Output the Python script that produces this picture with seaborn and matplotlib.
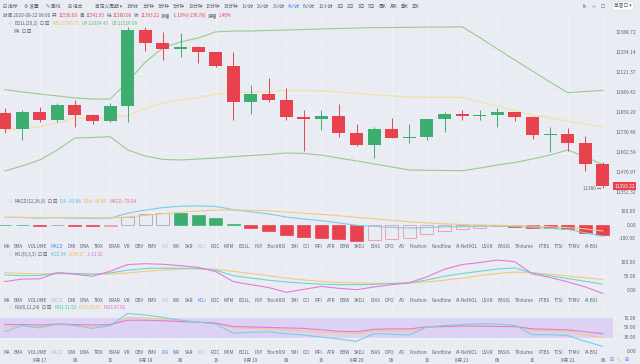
import matplotlib
matplotlib.use("Agg")
import numpy as np
import pandas as pd
import seaborn as sns
import matplotlib.pyplot as plt
from matplotlib.transforms import blended_transform_factory

# 4h candles from 2020-08-16 16:00 to 2020-08-22 08:00
times = pd.date_range("2020-08-16 16:00", periods=35, freq="4h")

opens = [11860, 11752, 11864, 11812, 11909, 11844, 11807, 11903, 12407, 12321,
         12279, 12294, 12257, 12167, 11930, 11981, 11942, 11833, 11818, 11840,
         11726, 11652, 11752, 11698, 11705, 11816, 11851, 11838, 11845, 11864,
         11833, 11716, 11722, 11666, 11530]
highs = [11890, 11877, 11896, 11922, 11942, 11853, 11920, 12427, 12427, 12395,
         12385, 12298, 12260, 12259, 12040, 12086, 12020, 11877, 11877, 11915,
         11786, 11769, 11823, 11786, 11820, 11866, 11877, 11877, 11888, 11866,
         11840, 11769, 11759, 11709, 11541.93]
lows = [11728, 11684, 11799, 11801, 11767, 11786, 11801, 11800, 12267, 12205,
        12227, 12187, 12160, 11812, 11851, 11931, 11812, 11615, 11748, 11705,
        11645, 11569, 11695, 11662, 11684, 11734, 11812, 11812, 11769, 11807,
        11688, 11609, 11615, 11489, 11380]
closes = [11752, 11864, 11812, 11909, 11844, 11807, 11903, 12407, 12321, 12279,
          12294, 12257, 12167, 11930, 11981, 11942, 11833, 11818, 11840, 11726,
          11652, 11752, 11698, 11705, 11816, 11851, 11838, 11845, 11864, 11833,
          11716, 11722, 11666, 11530, 11393.22]

boll_up = [12010, 11994, 11981, 11968, 11955, 11948, 11948, 12060, 12192, 12286,
           12326, 12353, 12394, 12400, 12400, 12404, 12407, 12410, 12414, 12417,
           12420, 12423, 12424, 12425, 12427, 12427, 12429, 12356, 12279, 12205,
           12132, 12060, 11989, 11997, 12004.43]
boll_mb = [11749, 11756, 11769, 11794, 11826, 11824, 11826, 11840, 11887, 11923,
           11941, 11958, 11981, 11989, 11993, 11998, 12004, 12004, 12001, 11993,
           11985, 11977, 11968, 11960, 11959, 11959, 11959, 11931, 11902, 11873,
           11847, 11824, 11804, 11786, 11766.71]
boll_lb = [11487, 11519, 11557, 11620, 11696, 11700, 11705, 11620, 11582, 11560,
           11557, 11563, 11569, 11578, 11585, 11592, 11601, 11598, 11588, 11569,
           11551, 11532, 11513, 11494, 11492, 11491, 11489, 11506, 11525, 11541,
           11563, 11588, 11620, 11576, 11528.99]

dif = [58.5, 57.5, 52, 56.5, 51.5, 50, 51, 89, 112, 131, 141, 144, 139.5, 115.5,
       98.5, 83.5, 60.5, 45, 32.5, 16, -2, -9.5, -18, -22.5, -19, -13.5, -12.5,
       -10, -7, -10, -18, -25.5, -33, -58, -83.88]
dea = [57, 56, 55, 55, 54, 54, 53, 60, 72, 85, 96, 105, 112, 113, 111, 106, 98,
       89, 80, 70, 58, 47, 36, 25, 16, 9, 4, 0, -2, -4, -8, -13, -19, -29, -44.84]
macd_hist = [3, 3, -6, 3, -5, -8, -4, 58, 80, 92, 90, 78, 55, 5, -25, -45, -75,
             -88, -95, -108, -120, -113, -108, -95, -70, -45, -33, -20, -10, -12,
             -20, -25, -28, -58, -78.04]

kdj_k = [55, 52, 53, 62, 60, 57, 62, 72, 78, 79, 79, 78, 72, 52, 44, 36, 30, 25,
         22, 20, 20, 21, 24, 26, 37, 50, 60, 68, 76, 80, 62, 52, 42, 32, 22.34]
kdj_d = [64, 60, 58, 59, 60, 58, 58, 62, 68, 72, 76, 77, 75, 68, 60, 52, 44, 37,
         32, 28, 26, 25, 25, 26, 30, 36, 44, 52, 60, 65, 63, 57, 51, 45, 38.17]
kdj_j = [31, 40, 41, 63, 57, 50, 68, 92, 95, 93, 88, 82, 67, 31, 20, 10, -7, 3,
         14, 7, 2, 12, 20, 27, 48, 75, 92, 99, 108, 102, 58, 46, 30, 12, -11.32]

rsi1 = [42, 55, 50, 59, 55, 49, 55, 80, 77, 72, 66, 62, 58, 39, 41, 42, 38, 35,
        31, 27, 22, 38, 37, 35, 52, 55, 57, 59, 58, 55, 36, 36, 34, 22, 11.53]
rsi2 = [52, 54, 53, 56, 55, 52, 55, 72, 71, 68, 65, 62, 60, 50, 49, 48, 46, 44,
        41, 40, 38, 44, 44, 43, 51, 52, 53, 53, 53, 52, 45, 44, 43, 36, 29.67]
rsi3 = [57, 57, 56, 58, 57, 56, 57, 66, 66, 65, 63, 62, 60, 53, 52, 51, 50, 49,
        46, 43, 42, 47, 48, 48, 52, 53, 54, 54, 53, 53, 48, 47, 46, 42, 37.82]

price_ticks = [12388.72, 12254.14, 12121.37, 11989.42, 11859.20, 11730.46,
               11602.59, 11476.97, 11352.32]
macd_ticks = [100, 0, -100]
kdj_ticks = [100, 50, 0]
rsi_ticks = [70, 50, 30, 0]

indicators = ["MA", "EMA", "VOLUME", "MACD", "DMI", "DMA", "TRIX", "BRAR", "VR",
              "OBV", "EMV", "RSI", "WR", "SAR", "KDJ", "ROC", "MTM", "BOLL", "PSY",
              "StochRSI", "SMI", "CCI", "MFI", "ATR", "BBW", "SKDJ", "BIAS", "DPO",
              "AO", "Position", "Fundflow", "AI-NetVOL", "LSUR", "BASIS", "TVolume",
              "FTBS", "TTSI", "TTMU", "AI-BSI"]
periods = ["1分时", "1分钟", "3分钟", "5分钟", "10分钟", "15分钟", "30分钟", "1小时",
           "2小时", "3小时", "4小时", "6小时", "12小时", "1日", "2日", "3日", "5日",
           "周K", "月K", "季K", "年K"]

# colours
BG = "#e9ecf3"
GRID = "#f2f3f8"
GREEN = "#3dae70"
RED = "#e8424f"
BAND = "#98cc90"
MID = "#f1e2a8"
TXT = "#5b606c"
MUTED = "#b9bdc7"
BLUE = "#4a86e8"
CYAN = "#78cfe3"
YEL = "#f3c97f"
PINK = "#e27cd6"

sns.set_theme(style="white")
plt.rcParams["font.family"] = ["Noto Sans CJK SC", "DejaVu Sans"]

W, H = 640, 364
fig = plt.figure(figsize=(6.4, 3.64), dpi=100)
fig.patch.set_facecolor(BG)

idx = np.arange(len(closes))
STEP = 17.6
X0 = 4.5
xlim = (-X0 / STEP, (W - X0) / STEP)


def fx(x):
    return x / W


def fy(y):
    return 1 - y / H


def panel(y0, y1):
    ax = fig.add_axes([0, fy(y1), 1, (y1 - y0) / H])
    ax.set_facecolor(BG)
    for s in ax.spines.values():
        s.set_visible(False)
    ax.tick_params(left=False, bottom=False, labelleft=False, labelbottom=False)
    ax.set_xlim(*xlim)
    for i in range(0, len(idx), 2):
        ax.axvline(i, color=GRID, lw=0.6, zorder=0)
    return ax


def right_labels(ax, ticks, fmt="{:.2f}", grid=True):
    tr = blended_transform_factory(ax.transAxes, ax.transData)
    for v in ticks:
        if grid:
            ax.axhline(v, color=GRID, lw=0.6, zorder=0)
        ax.text(636 / W, v, fmt.format(v), transform=tr, ha="right", va="center",
                fontsize=3.5, color=TXT, clip_on=False, zorder=5)


def seq(parts, x0, y, gap, size=3.4):
    texts = [fig.text(0, fy(y), s, color=c, fontsize=size, va="center", ha="left")
             for s, c in parts]
    fig.canvas.draw()
    r = fig.canvas.get_renderer()
    x = x0
    for t in texts:
        t.set_x(fx(x))
        x += t.get_window_extent(r).width + gap
    return texts


def spread(words, colors, x0, x1, y, size=3.3):
    texts = [fig.text(0, fy(y), w, color=c, fontsize=size, va="center", ha="left")
             for w, c in zip(words, colors)]
    fig.canvas.draw()
    r = fig.canvas.get_renderer()
    widths = [t.get_window_extent(r).width for t in texts]
    gap = (x1 - x0 - sum(widths)) / (len(words) - 1)
    x = x0
    for t, w in zip(texts, widths):
        t.set_x(fx(x))
        x += w + gap


# ---- main candle panel
ax = panel(13, 196)
ax.set_yscale("log")
ax.set_ylim(11331.7, 12522.7)
ax.yaxis.set_minor_locator(matplotlib.ticker.NullLocator())
right_labels(ax, price_ticks)

sns.lineplot(x=idx, y=boll_up, ax=ax, color=BAND, lw=0.8, zorder=2)
sns.lineplot(x=idx, y=boll_lb, ax=ax, color=BAND, lw=0.8, zorder=2)
sns.lineplot(x=idx, y=boll_mb, ax=ax, color=MID, lw=0.9, zorder=2)

o = np.array(opens)
c = np.array(closes)
cols = np.where(c >= o, GREEN, RED)
ax.vlines(idx, lows, highs, colors=cols, lw=0.7, zorder=3)
body_lo = np.minimum(o, c)
body_h = np.maximum(np.abs(c - o), 2.5)
ax.bar(idx, body_h, bottom=body_lo, width=0.74, color=cols, lw=0, zorder=4)

tr = blended_transform_factory(ax.transAxes, ax.transData)
ax.text(635 / W, closes[-1], f"{closes[-1]:.2f}", transform=tr, ha="right",
        va="center", fontsize=3.5, color="white", zorder=6,
        bbox=dict(boxstyle="square,pad=0.3", fc=RED, ec="none"))
ax.text(idx[-1] - 0.1, lows[-1], f"{lows[-1]:.0f} →", ha="right", va="center",
        fontsize=3.3, color=TXT, zorder=6)

# ---- MACD panel
ax2 = panel(196, 243)
ax2.set_ylim(-135, 218)
right_labels(ax2, macd_ticks)
prev = None
for i, v in enumerate(macd_hist):
    hollow = prev is not None and v > prev
    col = GREEN if v >= 0 else RED
    if hollow:
        edge = "#a4a7ad" if v >= 0 else "#e59aa6"
        ax2.bar(i, v, width=0.74, fill=False, edgecolor=edge, lw=0.6, zorder=3)
    else:
        ax2.bar(i, v, width=0.74, color=col, edgecolor=col, lw=0.5, zorder=3)
    prev = v
sns.lineplot(x=idx, y=dif, ax=ax2, color=CYAN, lw=0.8, zorder=4)
sns.lineplot(x=idx, y=dea, ax=ax2, color=YEL, lw=0.8, zorder=4)

# ---- KDJ panel
ax3 = panel(250, 296)
ax3.set_ylim(-20.4, 144)
right_labels(ax3, kdj_ticks)
sns.lineplot(x=idx, y=kdj_d, ax=ax3, color=YEL, lw=0.8)
sns.lineplot(x=idx, y=kdj_k, ax=ax3, color="#6fd6cc", lw=0.8)
sns.lineplot(x=idx, y=kdj_j, ax=ax3, color=PINK, lw=0.8)

# ---- RSI panel
ax4 = panel(304, 350)
ax4.set_ylim(4, 99.8)
ax4.axhspan(30, 70, xmin=0, xmax=613 / W, color="#ddd2f3", lw=0, zorder=1)
right_labels(ax4, rsi_ticks)
sns.lineplot(x=idx, y=rsi2, ax=ax4, color=YEL, lw=0.8, zorder=3)
sns.lineplot(x=idx, y=rsi3, ax=ax4, color=PINK, lw=0.8, zorder=3)
sns.lineplot(x=idx, y=rsi1, ax=ax4, color=CYAN, lw=0.8, zorder=3)

# ---- toolbar
seq([("⊟ 指标", TXT), ("⚙ 设置", TXT), ("✎ 画线", TXT), ("⊞ 组合", TXT)], 3, 6, 7, 3.4)
seq([("自定义周期 ▾", TXT)], 95, 6, 0, 3.4)
spread(periods, [BLUE if p == "4小时" else TXT for p in periods], 127, 420, 6, 3.4)
seq([("fx", TXT), ("⊹", TXT), ("☐", TXT)], 583, 6, 5, 3.4)
fig.text(fx(623), fy(6), "单窗口 ▾", fontsize=3.4, color=TXT, ha="center", va="center",
         bbox=dict(boxstyle="round,pad=0.35", fc="white", ec="#d6d9e0", lw=0.4))

# ---- info line
seq([("时间 2020-08-22 08:00", TXT), ("开", TXT), ("11530.00", RED), ("高", TXT),
     ("11541.93", RED), ("低", TXT), ("11380.00", RED), ("收", TXT), ("11393.22", RED),
     ("涨幅", TXT), ("-1.19%(-136.78)", RED), ("振幅", TXT), ("1.40%", RED)], 3, 15.7, 1.8, 3.3)

# ---- panel legends
seq([("∨", MUTED), ("BOLL(20,2)", TXT), ("⊡ ⊠", TXT), ("MB:11766.71", "#e6c65c"),
     ("UP:12004.43", "#6fbf6f"), ("LB:11528.99", "#6fbf6f")], 7, 23.3, 2.5, 3.3)
seq([("MA", TXT), ("⊡ ⊠", TXT)], 13, 31.3, 2.5, 3.3)
seq([("∨", MUTED), ("MACD(12,26,9)", TXT), ("⊡ ⊠", TXT), ("DIF:-83.88", "#52c3d8"),
     ("DEA:-44.84", "#f0b85a"), ("MACD:-78.04", "#e6708a")], 7, 201.7, 2.5, 3.3)
seq([("∨", MUTED), ("KDJ(9,3,3)", TXT), ("⊡ ⊠", TXT), ("K:22.34", "#45c6bc"),
     ("D:38.17", "#f0bd55"), ("J:-11.32", "#e06cc6")], 7, 254.3, 2.5, 3.3)
seq([("∨", MUTED), ("RSI(6,12,24)", TXT), ("⊡ ⊠", TXT), ("RSI1:11.53", "#3fc2a0"),
     ("RSI2:29.67", "#f0bd55"), ("RSI3:37.82", "#e06cc6")], 7, 307.7, 2.5, 3.3)

# ---- indicator tab rows
for y, active in [(247, "MACD"), (300, "KDJ"), (352.7, "RSI")]:
    cols_row = []
    for w in indicators:
        if w == active:
            cols_row.append(BLUE)
        elif w in ("MACD", "KDJ", "RSI"):
            cols_row.append(MUTED)
        else:
            cols_row.append(TXT)
    spread(indicators, cols_row, 3, 598, y, 3.3)

# ---- time axis
for i in range(2, len(times), 2):
    t = times[i]
    lab = f"{t.month}月 {t.day}" if t.hour == 0 else f"{t.hour:02d}"
    fig.text(fx(X0 + STEP * i), fy(360), lab, fontsize=3.3, color=TXT,
             ha="center", va="center")
seq([("⊟", BLUE), ("╲", TXT), ("⊞", BLUE)], 610, 359.5, 3, 3.4)

fig.savefig("out.png", dpi=100, facecolor=BG)
